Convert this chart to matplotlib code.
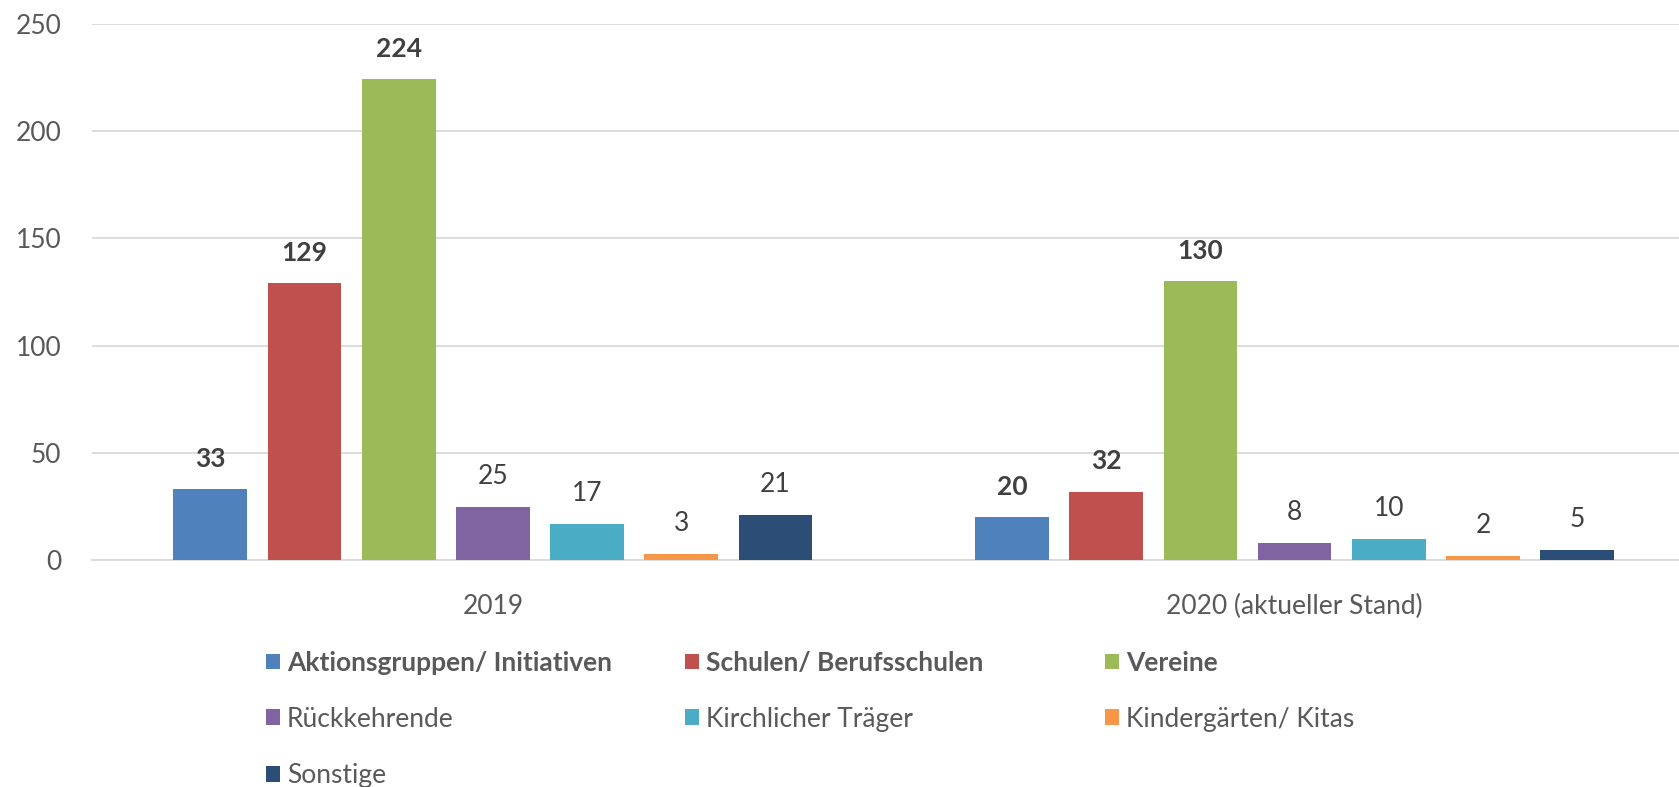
import numpy as np
import matplotlib.pyplot as plt

# data
categories = ["2019", "2020 (aktueller Stand)"]
series = ["Aktionsgruppen/ Initiativen", "Schulen/ Berufsschulen", "Vereine",
          "Rückkehrende", "Kirchlicher Träger", "Kindergärten/ Kitas", "Sonstige"]
values = [
    [33, 20],
    [129, 32],
    [224, 130],
    [25, 8],
    [17, 10],
    [3, 2],
    [21, 5],
]
bold_series = ["Aktionsgruppen/ Initiativen", "Schulen/ Berufsschulen", "Vereine"]
colors = ["#4f81bd", "#c0504d", "#9bbb59", "#8064a2", "#4bacc6", "#f79646", "#2c4d75"]

plt.rcParams['font.family'] = ['Lato', 'DejaVu Sans']
FS = 19

fig = plt.figure(figsize=(16.79, 7.87), dpi=100)
ax = fig.add_axes([0.0548, 0.288, 0.955, 0.682])

x = np.arange(len(categories))
step = 0.1175
width = 0.092
handles = []
for i, (name, vals) in enumerate(zip(series, values)):
    pos = x + (i - 3) * step
    b = ax.bar(pos, vals, width, color=colors[i], label=name, zorder=3)
    handles.append(b)
    bold = name in bold_series
    for p, v in zip(pos, vals):
        ax.annotate(str(v), (p, v), xytext=(0, 22), textcoords="offset points",
                    ha="center", va="center", fontsize=FS, color="#404040",
                    fontweight="bold" if bold else "normal")

ax.set_xlim(-0.5, 1.5)
ax.set_ylim(0, 250)
ax.set_yticks(range(0, 251, 50))
ax.set_xticks(x)
ax.set_xticklabels(categories)
ax.yaxis.grid(True, color="#d9d9d9", linewidth=1.3, zorder=0)
ax.tick_params(axis="both", length=0, labelsize=FS, labelcolor="#595959")
ax.tick_params(axis="x", pad=24)
ax.tick_params(axis="y", pad=22)
for s in ["top", "right", "left"]:
    ax.spines[s].set_visible(False)
ax.spines["bottom"].set_color("#d9d9d9")
ax.spines["bottom"].set_linewidth(1.3)

# legend: three equal-width columns, row-major order
columns = [[0, 3, 6], [1, 4], [2, 5]]
col_x = [0.1584, 0.4079, 0.6579]
for cols, cx in zip(columns, col_x):
    leg = fig.legend([handles[k] for k in cols], [series[k] for k in cols],
                     ncol=1, loc="upper left", bbox_to_anchor=(cx, 0.173),
                     borderaxespad=0, borderpad=0,
                     frameon=False, fontsize=FS, handlelength=0.55, handleheight=0.55,
                     handletextpad=0.25, labelspacing=1.2)
    for t in leg.get_texts():
        t.set_color("#595959")
        if t.get_text() in bold_series:
            t.set_fontweight("bold")

fig.savefig("out.png", dpi=100)
